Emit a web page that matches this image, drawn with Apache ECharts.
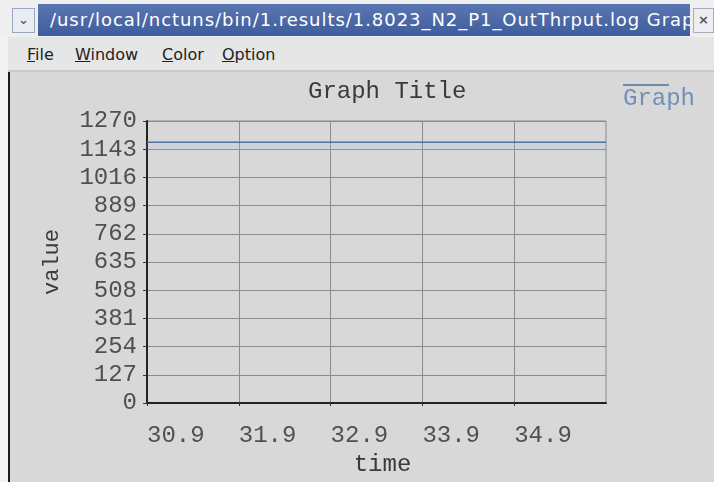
<!DOCTYPE html>
<html>
<head>
<meta charset="utf-8">
<script src="https://cdn.jsdelivr.net/npm/echarts@6/dist/echarts.min.js"></script>
<style>
  html, body { margin: 0; padding: 0; width: 714px; height: 482px; overflow: hidden; background: #efefef; }
  #frame { position: absolute; left: 0; top: 0; width: 714px; height: 482px; }
  #titlebar { position: absolute; left: 38px; top: 4px; width: 652px; height: 32px;
    background: linear-gradient(#5a76b2, #3f5d9c); overflow: hidden; }
  #titletext { position: absolute; left: 12px; top: 5px; white-space: nowrap; color: #fff;
    font-family: "DejaVu Sans", sans-serif; font-size: 18px; letter-spacing: 0.95px; }
  #menubtn { position: absolute; left: 12px; top: 8px; width: 23px; height: 25px; background: #e9ecf3;
    border: 1px solid #9aa6bf; box-sizing: border-box; color: #4a5f8c; font: bold 13px "DejaVu Sans", sans-serif;
    text-align: center; line-height: 22px; }
  #closebtn { position: absolute; left: 693px; top: 8px; width: 21px; height: 25px; background: #eceef2;
    border: 1px solid #aab; box-sizing: border-box; color: #555; font: bold 13px "DejaVu Sans", sans-serif;
    text-align: center; line-height: 22px; }
  #menubar { position: absolute; left: 8px; top: 37px; width: 706px; height: 33px; background: #e6e6e6; }
  #menubar span { position: absolute; top: 8px; font-family: "DejaVu Sans", sans-serif; font-size: 16px; color: #222; }
  #menubar u { text-decoration: underline; }
  #sep { position: absolute; left: 8px; top: 70px; width: 706px; height: 2px; background: #c9c9c9; }
  #content { position: absolute; left: 8px; top: 72px; width: 706px; height: 410px; background: #d8d8d8;
    border-left: 2px solid #1a1a1a; box-sizing: border-box; }
  #leftedge { position: absolute; left: 0; top: 36px; width: 8px; height: 446px; background: #f3f3f3; }
  #chart { position: absolute; left: 0; top: 0; width: 714px; height: 482px; }
</style>
</head>
<body>
<div id="frame">
  <div id="leftedge"></div>
  <div id="menubtn">&#8964;</div>
  <div id="titlebar"><div id="titletext">/usr/local/nctuns/bin/1.results/1.8023_N2_P1_OutThrput.log Graph</div></div>
  <div id="closebtn">&#215;</div>
  <div id="menubar">
    <span style="left:19px"><u>F</u>ile</span>
    <span style="left:67px"><u>W</u>indow</span>
    <span style="left:154px"><u>C</u>olor</span>
    <span style="left:214px"><u>O</u>ption</span>
  </div>
  <div id="sep"></div>
  <div id="content"></div>
</div>
<div id="chart"></div>
<script>
// time samples (x axis categories) and logged output throughput
const timeTicks = ['30.9', '31.9', '32.9', '33.9', '34.9', '35.9'];
const throughput = [1174, 1174, 1174, 1174, 1174, 1174];
const valueMin = 0;
const valueMax = 1270;
const valueStep = 127;
const seriesName = 'Graph';

const mono = 'Liberation Mono, Courier New, monospace';
const chart = echarts.init(document.getElementById('chart'), null, { renderer: 'canvas' });

chart.setOption({
  backgroundColor: 'transparent',
  animation: false,
  title: {
    text: 'Graph Title',
    left: 308,
    top: 80,
    padding: 0,
    textStyle: { fontFamily: mono, fontSize: 24, fontWeight: 'normal', color: '#3a3a3a' }
  },
  legend: {
    data: [seriesName],
    left: 617,
    top: 79,
    padding: 0,
    itemWidth: 0,
    itemHeight: 0,
    formatter: '{bar|}\n{t|{name}}',
    textStyle: {
      rich: {
        bar: { width: 46, height: 1.5, backgroundColor: '#4f729c' },
        t: { fontFamily: mono, fontSize: 24, color: '#7090b6', lineHeight: 26 }
      }
    }
  },
  grid: {
    left: 147, right: 108, top: 121, bottom: 69,
    show: true, borderColor: '#8a8a8a', borderWidth: 1, backgroundColor: 'transparent'
  },
  xAxis: {
    type: 'category',
    data: timeTicks,
    boundaryGap: false,
    name: 'time',
    nameLocation: 'middle',
    nameGap: 50,
    nameTextStyle: { fontFamily: mono, fontSize: 24, color: '#3a3a3a', padding: [0, 0, 0, 12] },
    axisLine: { lineStyle: { color: '#222', width: 2 } },
    axisTick: { show: true, length: 3, alignWithLabel: true, lineStyle: { color: '#333' } },
    axisLabel: {
      fontFamily: mono, fontSize: 24, color: '#505050', align: 'left', margin: 21,
      interval: function (index) { return index < timeTicks.length - 1; }
    },
    splitLine: { show: true, lineStyle: { color: '#8c8c8c', width: 1 } }
  },
  yAxis: {
    type: 'value',
    min: valueMin,
    max: valueMax,
    interval: valueStep,
    name: 'value',
    nameLocation: 'middle',
    nameGap: 84,
    nameTextStyle: { fontFamily: mono, fontSize: 22, color: '#3a3a3a' },
    axisLine: { show: true, lineStyle: { color: '#222', width: 2 } },
    axisTick: { show: true, length: 4, lineStyle: { color: '#333' } },
    axisLabel: {
      fontFamily: mono, fontSize: 24, color: '#505050', margin: 10,
      formatter: function (v) { return String(v); }
    },
    splitLine: { show: true, lineStyle: { color: '#8c8c8c', width: 1 } }
  },
  series: [{
    name: seriesName,
    type: 'line',
    data: throughput,
    symbol: 'none',
    color: '#4f729c',
    lineStyle: {
      color: '#4f729c', width: 1.5,
      shadowColor: '#a9c3de', shadowBlur: 5, shadowOffsetY: 4
    }
  }]
});
</script>
</body>
</html>
